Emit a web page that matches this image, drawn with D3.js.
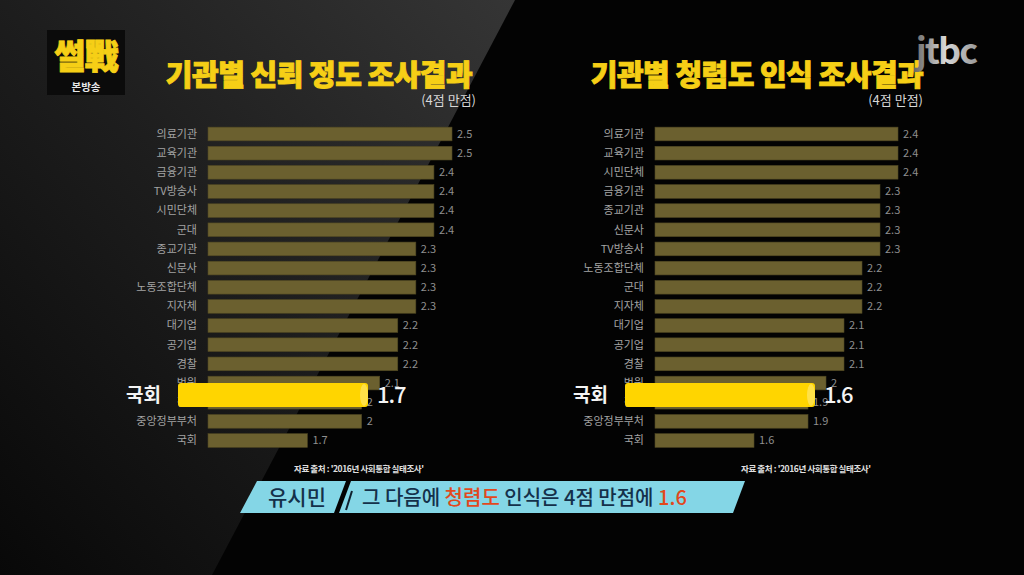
<!DOCTYPE html>
<html><head><meta charset="utf-8">
<script src="https://cdn.jsdelivr.net/npm/d3@7"></script>
<style>
html,body{margin:0;padding:0;background:#030303;}
svg{display:block;}
text{font-family:"Noto Sans CJK KR","Noto Sans",sans-serif;}
</style></head>
<body>
<svg id="c" width="1024" height="575"></svg>
<script>
// ---- data ----
const trustCategories = ["의료기관","교육기관","금융기관","TV방송사","시민단체","군대","종교기관","신문사","노동조합단체","지자체","대기업","공기업","경찰","법원","검찰","중앙정부부처","국회"];
const trustValues = [2.5,2.5,2.4,2.4,2.4,2.4,2.3,2.3,2.3,2.3,2.2,2.2,2.2,2.1,2,2,1.7];
const integrityCategories = ["의료기관","교육기관","시민단체","금융기관","종교기관","신문사","TV방송사","노동조합단체","군대","지자체","대기업","공기업","경찰","법원","검찰","중앙정부부처","국회"];
const integrityValues = [2.4,2.4,2.4,2.3,2.3,2.3,2.3,2.2,2.2,2.2,2.1,2.1,2.1,2,1.9,1.9,1.6];
const titles = ["기관별 신뢰 정도 조사결과","기관별 청렴도 인식 조사결과"];
const subtitle = "(4점 만점)";
const sourceNote = "자료 출처 : '2016년 사회통합 실태조사'";
const highlightLabel = "국회";

const svg = d3.select("#c");
const defs = svg.append("defs");
const bg = defs.append("linearGradient").attr("id","bgGrad").attr("x1","1").attr("y1","0").attr("x2","0").attr("y2","1");
bg.append("stop").attr("offset","0").attr("stop-color","#353535");
bg.append("stop").attr("offset","0.5").attr("stop-color","#1d1d1d");
bg.append("stop").attr("offset","1").attr("stop-color","#080808");
const jg = defs.append("linearGradient").attr("id","jGrad").attr("x1","0").attr("y1","0").attr("x2","1").attr("y2","0");
jg.append("stop").attr("offset","0").attr("stop-color","#666");
jg.append("stop").attr("offset","0.5").attr("stop-color","#d8d8d8");
jg.append("stop").attr("offset","1").attr("stop-color","#999");

// background
svg.append("rect").attr("width",1024).attr("height",575).attr("fill","#030303");
svg.append("polygon").attr("points","0,0 515,0 212,575 0,575").attr("fill","url(#bgGrad)");

// panels
const panels = [
  {cats: trustCategories, vals: trustValues, title: titles[0], x0: 208, x1: 452, domain:[1.15,2.5], titleX: 319, subX: 476, srcX: 294},
  {cats: integrityCategories, vals: integrityValues, title: titles[1], x0: 655, x1: 898, domain:[1.05,2.4], titleX: 757, subX: 923, srcX: 741}
];

panels.forEach(p => {
  const g = svg.append("g");
  const x = d3.scaleLinear().domain(p.domain).range([p.x0, p.x1]);
  const y = d3.scaleBand().domain(p.cats).range([124.4, 450.1]).paddingInner(0.285).paddingOuter(0.1425);

  g.append("text").attr("x", p.titleX).attr("y", 86).attr("text-anchor","middle")
    .attr("font-size", 29).attr("font-weight", 900).attr("fill", "#f6cf16")
    .attr("stroke","#f6cf16").attr("stroke-width",0.9).attr("letter-spacing", -0.5)
    .text(p.title);
  g.append("text").attr("x", p.subX).attr("y", 105).attr("text-anchor","end")
    .attr("font-size", 13).attr("fill", "#d8d8d8").text(subtitle);

  g.selectAll("rect.bar").data(p.vals).join("rect").attr("class","bar")
    .attr("x", x(p.domain[0])).attr("y", (d,i)=>y(p.cats[i]))
    .attr("width", d => x(d) - x(p.domain[0])).attr("height", y.bandwidth())
    .attr("fill", "#6b602f").attr("stroke","#4f4722").attr("stroke-width",0.6);

  g.selectAll("text.cat").data(p.cats).join("text").attr("class","cat")
    .attr("x", p.x0 - 11).attr("y", d => y(d) + y.bandwidth()/2).attr("dy","0.35em")
    .attr("text-anchor","end").attr("font-size", 11).attr("fill", "#a3a3a3").text(d => d);

  g.selectAll("text.val").data(p.vals).join("text").attr("class","val")
    .attr("x", d => x(d) + 5).attr("y", (d,i)=> y(p.cats[i]) + y.bandwidth()/2).attr("dy","0.35em")
    .attr("font-size", 11).attr("fill", "#8f8f8f").text(d => String(d));

  // highlight annotation (marker stroke over the 법원/검찰 rows)
  const hi = p.cats.indexOf(highlightLabel);
  const hy = y(p.cats[hi-2]) - 12.4;
  const hx0 = p.x0 - 30, hx1 = p.x0 + 160;
  g.append("rect").attr("x", hx0).attr("y", hy).attr("width", hx1 - hx0).attr("height", 24)
    .attr("rx", 3).attr("fill", "#ffd500");
  g.append("ellipse").attr("cx", hx1 - 4).attr("cy", hy + 12).attr("rx", 4).attr("ry", 11).attr("fill", "#ffe45a").attr("opacity",0.8);
  g.append("text").attr("x", hx0 - 17).attr("y", hy + 12).attr("dy","0.35em").attr("text-anchor","end")
    .attr("font-size", 19).attr("font-weight", 700).attr("fill", "#f4f4f4").text(highlightLabel);
  g.append("text").attr("x", hx1 + 9).attr("y", hy + 12).attr("dy","0.36em")
    .attr("font-size", 22).attr("font-weight", 500).attr("fill", "#f4f4f4").attr("letter-spacing",-1)
    .text(String(p.vals[hi]));

  g.append("text").attr("x", p.srcX).attr("y", 472).attr("font-size", 8.5).attr("font-weight",700)
    .attr("fill", "#e0e0e0").attr("letter-spacing", -0.4).text(sourceNote);
});

// logo top-left
svg.append("rect").attr("x",47).attr("y",30).attr("width",78).attr("height",65).attr("fill","#0b0b0b");
svg.append("text").attr("x",86).attr("y",69).attr("text-anchor","middle").attr("font-size",34).attr("font-weight",900)
  .attr("fill","#f6cf16").attr("stroke","#f6cf16").attr("stroke-width",0.8).attr("letter-spacing",-1).text("썰戰");
svg.append("text").attr("x",86).attr("y",91).attr("text-anchor","middle").attr("font-size",10.5).attr("font-weight",700)
  .attr("fill","#e8e8e8").text("본방송");

// jtbc logo
svg.append("text").attr("x",946).attr("y",64).attr("text-anchor","middle").attr("font-size",36).attr("font-weight",700)
  .attr("font-family","Lato, sans-serif").attr("fill","url(#jGrad)").attr("letter-spacing",-2).text("jtbc");

// caption band
const cap = svg.append("g");
cap.append("polygon").attr("points","257,481 346,481 334,513 240,513").attr("fill","#84d6e6");
cap.append("polygon").attr("points","351,481 745,481 733,513 339,513").attr("fill","#84d6e6");
cap.append("line").attr("x1",352).attr("y1",491).attr("x2",346).attr("y2",510).attr("stroke","#10202e").attr("stroke-width",2);
cap.append("text").attr("x",268).attr("y",505).attr("font-size",21).attr("font-weight",500).attr("fill","#14304a").text("유시민");
const ct = cap.append("text").attr("x",362).attr("y",505).attr("font-size",20).attr("font-weight",500).attr("fill","#14304a");
[["그 다음에 ","#14304a"],["청렴도","#e2481d"],[" 인식은 4점 만점에 ","#14304a"],["1.6","#e2481d"]]
  .forEach(([t,c]) => ct.append("tspan").attr("fill",c).text(t));
</script>
</body></html>
